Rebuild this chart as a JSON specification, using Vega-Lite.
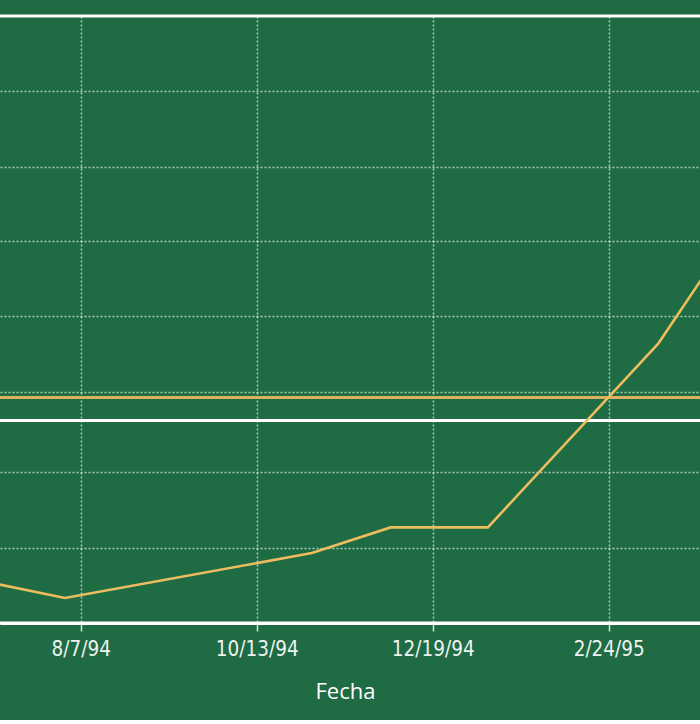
{
  "$schema": "https://vega.github.io/schema/vega-lite/v6.json",
  "width": 700,
  "height": 607,
  "autosize": {"type": "none"},
  "padding": {"left": 0, "right": 0, "top": 16, "bottom": 97},
  "background": "#1e6b44",
  "view": {"stroke": null},
  "config": {
    "axis": {
      "gridColor": "#ffffff",
      "gridOpacity": 0.65,
      "gridDash": [2, 2],
      "gridWidth": 1.5
    }
  },
  "layer": [
    {
      "data": {"values": [{"valor": 8}, {"valor": 2.669}, {"valor": 0}]},
      "mark": {"type": "rule", "color": "#ffffff", "strokeWidth": 2.8},
      "encoding": {
        "y": {
          "field": "valor",
          "type": "quantitative",
          "scale": {"domain": [0, 8], "nice": false, "zero": false},
          "axis": {
            "values": [0.992, 1.984, 3.047, 4.04, 5.03, 6.016, 7.013],
            "grid": true,
            "labels": false,
            "ticks": false,
            "domain": false,
            "title": null
          }
        }
      }
    },
    {
      "data": {"values": [{"valor": 2.972}]},
      "mark": {"type": "rule", "color": "#d9b25e", "strokeWidth": 3},
      "encoding": {
        "y": {"field": "valor", "type": "quantitative"}
      }
    },
    {
      "data": {
        "values": [
          {"fecha": "1994-07-07", "valor": 0.507},
          {"fecha": "1994-08-01", "valor": 0.329},
          {"fecha": "1994-11-03", "valor": 0.922},
          {"fecha": "1994-12-03", "valor": 1.26},
          {"fecha": "1995-01-09", "valor": 1.26},
          {"fecha": "1995-03-15", "valor": 3.689},
          {"fecha": "1995-04-01", "valor": 4.565}
        ]
      },
      "mark": {"type": "line", "color": "#ebbd5f", "strokeWidth": 2.6, "clip": true},
      "encoding": {
        "x": {
          "field": "fecha",
          "type": "temporal",
          "scale": {
            "type": "utc",
            "domain": [
              {"year": 1994, "month": 7, "date": 7, "hours": 6, "minutes": 43, "utc": true},
              {"year": 1995, "month": 3, "date": 30, "hours": 18, "utc": true}
            ]
          },
          "axis": {
            "values": [
              {"year": 1994, "month": 8, "date": 7, "utc": true},
              {"year": 1994, "month": 10, "date": 13, "utc": true},
              {"year": 1994, "month": 12, "date": 19, "utc": true},
              {"year": 1995, "month": 2, "date": 24, "utc": true}
            ],
            "format": "%-m/%-d/%y",
            "grid": true,
            "domain": true,
            "domainColor": "#ffffff",
            "domainWidth": 2.8,
            "ticks": true,
            "tickColor": "#d5e2d8",
            "tickWidth": 1.5,
            "tickSize": 8,
            "labelFont": "DejaVu Sans Condensed",
            "labelFontSize": 20.5,
            "labelColor": "#eef3ef",
            "labelPadding": 8,
            "title": "Fecha",
            "titleFont": "Open Sans",
            "titleFontSize": 22,
            "titleFontWeight": "normal",
            "titleColor": "#ffffff",
            "titlePadding": 22,
            "titleX": 345
          }
        },
        "y": {"field": "valor", "type": "quantitative"}
      }
    }
  ]
}
